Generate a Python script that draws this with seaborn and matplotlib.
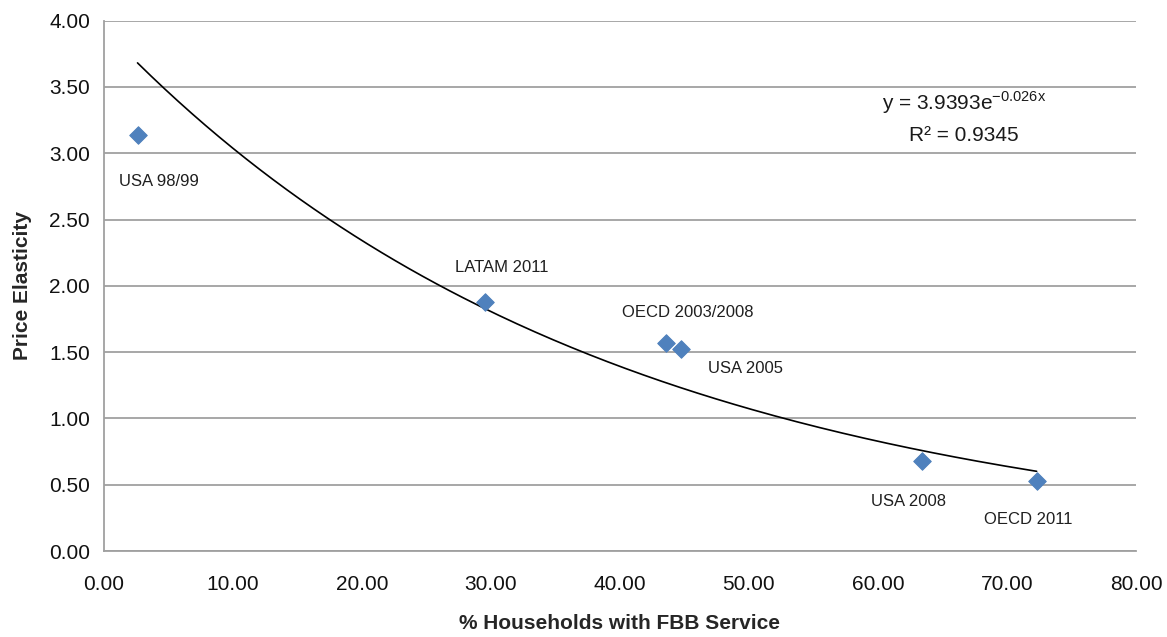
import numpy as np
import pandas as pd
import matplotlib
matplotlib.use('Agg')
import matplotlib.pyplot as plt
import seaborn as sns

# data
labels = ['USA 98/99', 'LATAM 2011', 'OECD 2003/2008', 'USA 2005', 'USA 2008', 'OECD 2011']
households = [2.6, 29.5, 43.6, 44.75, 63.45, 72.3]
elasticity = [3.14, 1.875, 1.57, 1.525, 0.68, 0.53]

# exponential trendline shown in the chart
fit_a = 3.9393
fit_b = -0.026
r_squared = 0.9345

sns.set_style('white')
plt.rcParams['font.family'] = ['Liberation Sans', 'DejaVu Sans']
plt.rcParams['mathtext.fontset'] = 'custom'
plt.rcParams['mathtext.rm'] = 'Liberation Sans'
plt.rcParams['axes.unicode_minus'] = False

df = pd.DataFrame({'x': households, 'y': elasticity, 'label': labels})
xs = np.linspace(min(households), max(households), 200)
trend = pd.DataFrame({'x': xs, 'y': fit_a * np.exp(fit_b * xs)})

fig = plt.figure(figsize=(11.67, 6.37), dpi=100)
ax = fig.add_axes([0.0891, 0.135, 0.8843, 0.8325])

ax.set_axisbelow(True)
ax.yaxis.grid(True, color='#a0a0a0', linewidth=1.3)
ax.xaxis.grid(False)

sns.lineplot(data=trend, x='x', y='y', ax=ax, color='black', linewidth=1.2)
sns.scatterplot(data=df, x='x', y='y', ax=ax, marker='D', s=80, color='#4f81bd',
                edgecolor='#4f81bd', zorder=3)

# label offsets (points) relative to each marker
offsets = {
    'USA 98/99': (-13, -34),
    'LATAM 2011': (-21, 25),
    'OECD 2003/2008': (-32, 22),
    'USA 2005': (19, -14),
    'USA 2008': (-37, -29),
    'OECD 2011': (-38, -28),
}
for _, r in df.iterrows():
    dx, dy = offsets[r['label']]
    ax.annotate(r['label'], (r['x'], r['y']), xytext=(dx, dy), textcoords='offset points',
                ha='left', va='center', fontsize=12, color='#1f1f1f')

ax.text(0.8335, 0.845, r'y = 3.9393e$^{\mathrm{-0.026x}}$', transform=ax.transAxes,
        ha='center', va='center', fontsize=15, color='#1a1a1a')
ax.text(0.8335, 0.783, f'R² = {r_squared}', transform=ax.transAxes, ha='center', va='center',
        fontsize=15, color='#1a1a1a')

ax.set_xlim(0, 80)
ax.set_ylim(0, 4)
ax.set_xticks(np.arange(0, 81, 10))
ax.set_yticks(np.arange(0, 4.01, 0.5))
ax.xaxis.set_major_formatter(matplotlib.ticker.FormatStrFormatter('%.2f'))
ax.yaxis.set_major_formatter(matplotlib.ticker.FormatStrFormatter('%.2f'))
ax.tick_params(axis='both', labelsize=15, colors='#a0a0a0', labelcolor='#111111',
               length=6, width=1.3, direction='out')
ax.tick_params(axis='x', length=7, pad=10)
ax.tick_params(axis='y', pad=4)

for side in ['top', 'right']:
    ax.spines[side].set_visible(False)
for side in ['left', 'bottom']:
    ax.spines[side].set_color('#a0a0a0')
    ax.spines[side].set_linewidth(1.3)

ax.set_xlabel('% Households with FBB Service', fontsize=15, fontweight='bold', labelpad=15)
ax.set_ylabel('Price Elasticity', fontsize=15, fontweight='bold', labelpad=12)

fig.savefig('out.png', dpi=100)
